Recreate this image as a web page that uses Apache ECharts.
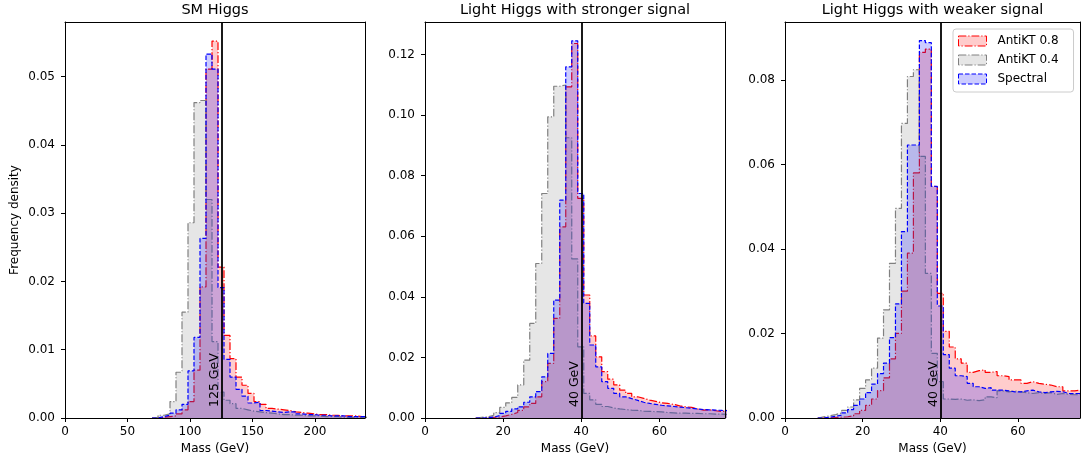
<!DOCTYPE html>
<html><head><meta charset="utf-8">
<script src="https://cdn.jsdelivr.net/npm/echarts@6/dist/echarts.min.js"></script>
<style>html,body{margin:0;padding:0;background:#fff}#c{width:1081px;height:465px}</style>
</head><body><div id="c"></div>
<script>
// ---------- data ----------
const seriesNames = ['AntiKT 0.8', 'AntiKT 0.4', 'Spectral'];
const panelTitles = ['SM Higgs', 'Light Higgs with stronger signal', 'Light Higgs with weaker signal'];
const markerMass = [125, 40, 40];
const markerLabels = ['125 GeV', '40 GeV', '40 GeV'];
const xMaxes = [240, 76.8, 76.0];
const yMaxes = [0.058, 0.1307, 0.0937];
const xTickValues = [[0, 50, 100, 150, 200], [0, 20, 40, 60], [0, 20, 40, 60]];
const yTickValues = [
  [0, 0.01, 0.02, 0.03, 0.04, 0.05],
  [0, 0.02, 0.04, 0.06, 0.08, 0.10, 0.12],
  [0, 0.02, 0.04, 0.06, 0.08]
];
// first bin edge and bin width (GeV) of each panel
const binStarts = [69.6, 12.99, 8.44];
const binWidths = [4.8, 1.536, 1.54];

// SM Higgs (bins from 69.6 GeV, width 4.8)
const smAntiKT08 = [0, 0.0001, 0.0002, 0.0003, 0.0006, 0.0012, 0.0024, 0.0070, 0.0192, 0.0511, 0.0552, 0.0221, 0.0121, 0.0087, 0.0060, 0.0048, 0.0036, 0.0024, 0.0020, 0.0014, 0.0013, 0.0012, 0.0011, 0.0009, 0.0008, 0.0007, 0.0006, 0.0005, 0.0005, 0.0004, 0.0004, 0.0003, 0.0003, 0.0003, 0.0002, 0.0002];
const smAntiKT04 = [0.0001, 0.0004, 0.0006, 0.0024, 0.0067, 0.0155, 0.0286, 0.0462, 0.0465, 0.0320, 0.0112, 0.0038, 0.0026, 0.0021, 0.0014, 0.0012, 0.0010, 0.0009, 0.0008, 0.0007, 0.0006, 0.0005, 0.0005, 0.0004, 0.0004, 0.0003, 0.0003, 0.0003, 0.0002, 0.0002, 0.0002, 0.0001, 0.0001, 0.0001, 0.0001, 0.0001];
const smSpectral = [0, 0.0002, 0.0004, 0.0007, 0.0012, 0.0020, 0.0069, 0.0118, 0.0263, 0.0533, 0.0511, 0.0191, 0.0086, 0.0060, 0.0042, 0.0032, 0.0022, 0.0023, 0.0011, 0.0010, 0.0009, 0.0008, 0.0009, 0.0009, 0.0006, 0.0005, 0.0005, 0.0004, 0.0004, 0.0003, 0.0003, 0.0003, 0.0002, 0.0002, 0.0002, 0.0002];

// Light Higgs, stronger signal (bins from 12.99 GeV, width 1.536)
const strongAntiKT08 = [0, 0.0001, 0.0002, 0.0003, 0.0007, 0.0012, 0.0018, 0.0025, 0.0037, 0.0048, 0.0070, 0.0120, 0.0180, 0.0329, 0.0631, 0.1093, 0.1236, 0.0725, 0.0406, 0.0271, 0.0202, 0.0153, 0.0128, 0.0109, 0.0092, 0.0081, 0.0070, 0.0065, 0.0059, 0.0055, 0.0050, 0.0048, 0.0045, 0.0040, 0.0037, 0.0035, 0.0030, 0.0026, 0.0027, 0.0024, 0.0021, 0.0026];
const strongAntiKT04 = [0.0002, 0.0004, 0.0009, 0.0018, 0.0035, 0.0050, 0.0068, 0.0109, 0.0191, 0.0312, 0.0510, 0.0741, 0.0994, 0.1095, 0.1099, 0.0925, 0.0525, 0.0235, 0.0081, 0.0060, 0.0045, 0.0038, 0.0033, 0.0030, 0.0028, 0.0026, 0.0025, 0.0023, 0.0022, 0.0021, 0.0020, 0.0018, 0.0017, 0.0016, 0.0016, 0.0015, 0.0015, 0.0014, 0.0014, 0.0013, 0.0013, 0.0012];
const strongSpectral = [0, 0.0001, 0.0003, 0.0008, 0.0015, 0.0022, 0.0030, 0.0037, 0.0052, 0.0070, 0.0087, 0.0136, 0.0213, 0.0389, 0.0719, 0.1159, 0.1245, 0.0741, 0.0378, 0.0241, 0.0169, 0.0120, 0.0098, 0.0081, 0.0070, 0.0064, 0.0058, 0.0052, 0.0048, 0.0045, 0.0042, 0.0040, 0.0038, 0.0036, 0.0034, 0.0032, 0.0030, 0.0028, 0.0027, 0.0026, 0.0025, 0.0024];

// Light Higgs, weaker signal (bins from 8.44 GeV, width 1.54)
const weakAntiKT08 = [0, 0, 0.0001, 0.0002, 0.0003, 0.0005, 0.0010, 0.0018, 0.0030, 0.0045, 0.0065, 0.0095, 0.0140, 0.0200, 0.0300, 0.0390, 0.0580, 0.0865, 0.0873, 0.0548, 0.0295, 0.0205, 0.0168, 0.0140, 0.0130, 0.0108, 0.0112, 0.0114, 0.0108, 0.0110, 0.0100, 0.0098, 0.0090, 0.0090, 0.0082, 0.0086, 0.0082, 0.0080, 0.0078, 0.0074, 0.0074, 0.0064, 0.0064, 0.0066, 0.0068];
const weakAntiKT04 = [0.0003, 0.0005, 0.0008, 0.0012, 0.0018, 0.0026, 0.0043, 0.0070, 0.0090, 0.0118, 0.0189, 0.0256, 0.0366, 0.0496, 0.0697, 0.0808, 0.0824, 0.0619, 0.0342, 0.0153, 0.0086, 0.0045, 0.0044, 0.0045, 0.0042, 0.0043, 0.0041, 0.0043, 0.0050, 0.0048, 0.0064, 0.0062, 0.0064, 0.0062, 0.0060, 0.0058, 0.0060, 0.0058, 0.0060, 0.0056, 0.0058, 0.0056, 0.0055, 0.0056, 0.0055];
const weakSpectral = [0, 0.0002, 0.0004, 0.0007, 0.0012, 0.0020, 0.0030, 0.0045, 0.0060, 0.0080, 0.0105, 0.0130, 0.0190, 0.0270, 0.0441, 0.0646, 0.0646, 0.0893, 0.0888, 0.0548, 0.0265, 0.0150, 0.0118, 0.0100, 0.0098, 0.0082, 0.0074, 0.0070, 0.0072, 0.0066, 0.0066, 0.0064, 0.0062, 0.0062, 0.0064, 0.0066, 0.0062, 0.0060, 0.0062, 0.0063, 0.0062, 0.0058, 0.0058, 0.0058, 0.0058];

const panelValues = [
  [smAntiKT08, smAntiKT04, smSpectral],
  [strongAntiKT08, strongAntiKT04, strongSpectral],
  [weakAntiKT08, weakAntiKT04, weakSpectral]
];

// ---------- styles ----------
const FONT = 'DejaVu Sans';
const lineColors = ['#ff0000', '#808080', '#0000ff'];
const fillColors = ['rgba(255,0,0,0.2)', 'rgba(128,128,128,0.2)', 'rgba(0,0,255,0.2)'];
const dashes = [[7.8, 2, 1.2, 2], [7.8, 2, 1.2, 2], [4.5, 2]];
const gridBoxes = [
  {left: 65, top: 22, width: 300, height: 396},
  {left: 425, top: 22, width: 300, height: 396},
  {left: 785, top: 22, width: 295, height: 396}
];

function stepPoints(start, width, vals) {
  const pts = [[start, 0]];
  vals.forEach((v, i) => pts.push([start + i * width, v]));
  const end = start + vals.length * width;
  pts.push([end, vals[vals.length - 1]]);
  pts.push([end, 0]);
  return pts;
}

const blackLine = {color: '#000', width: 1};
const xAxes = [], yAxes = [], series = [];
for (let i = 0; i < 3; i++) {
  xAxes.push({
    gridIndex: i, type: 'value', min: 0, max: xMaxes[i], position: 'bottom', z: 10,
    axisLine: {show: true, onZero: false, lineStyle: blackLine},
    axisTick: {show: true, inside: false, length: 4, customValues: xTickValues[i], lineStyle: blackLine},
    axisLabel: {customValues: xTickValues[i], margin: 8, fontSize: 12, color: '#000', fontFamily: FONT},
    splitLine: {show: false},
    name: 'Mass (GeV)', nameLocation: 'middle', nameGap: 25,
    nameTextStyle: {fontSize: 12, color: '#000', fontFamily: FONT}
  });
}
for (let i = 0; i < 3; i++) {
  xAxes.push({
    gridIndex: i, type: 'value', min: 0, max: xMaxes[i], position: 'top', z: 10,
    axisLine: {show: true, onZero: false, lineStyle: blackLine},
    axisTick: {show: false}, axisLabel: {show: false}, splitLine: {show: false},
    name: panelTitles[i], nameLocation: 'middle', nameGap: 4,
    nameTextStyle: {fontSize: 14.5, color: '#000', fontFamily: FONT, verticalAlign: 'bottom'}
  });
}
for (let i = 0; i < 3; i++) {
  const y = {
    gridIndex: i, type: 'value', min: 0, max: yMaxes[i], position: 'left', z: 10,
    axisLine: {show: true, onZero: false, lineStyle: blackLine},
    axisTick: {show: true, inside: false, length: 4, customValues: yTickValues[i], lineStyle: blackLine},
    axisLabel: {customValues: yTickValues[i], margin: 10, fontSize: 12, color: '#000', fontFamily: FONT,
      formatter: v => Number(v).toFixed(2)},
    splitLine: {show: false}
  };
  if (i === 0) {
    y.name = 'Frequency density'; y.nameLocation = 'middle'; y.nameGap = 44; y.nameRotate = 90;
    y.nameTextStyle = {fontSize: 12, color: '#000', fontFamily: FONT};
  }
  yAxes.push(y);
}
for (let i = 0; i < 3; i++) {
  yAxes.push({
    gridIndex: i, type: 'value', min: 0, max: yMaxes[i], position: 'right', z: 10,
    axisLine: {show: true, onZero: false, lineStyle: blackLine},
    axisTick: {show: false}, axisLabel: {show: false}, splitLine: {show: false}
  });
}
for (let i = 0; i < 3; i++) {
  for (let s = 0; s < 3; s++) {
    series.push({
      type: 'line', name: seriesNames[s], xAxisIndex: i, yAxisIndex: i,
      data: stepPoints(binStarts[i], binWidths[i], panelValues[i][s]),
      step: 'end', symbol: 'none', showSymbol: false, clip: true, z: 2 + s,
      lineStyle: {color: lineColors[s], width: 1.2, type: dashes[s]},
      itemStyle: {color: lineColors[s]},
      areaStyle: {color: fillColors[s], opacity: 1},
      emphasis: {disabled: true}, silent: true
    });
  }
  series.push({
    type: 'line', xAxisIndex: i, yAxisIndex: i, data: [], z: 8, silent: true,
    markLine: {
      silent: true, symbol: ['none', 'none'], animation: false,
      lineStyle: {color: '#000', width: 1.8, type: 'solid'},
      label: {show: true, position: 'insideStartTop', formatter: markerLabels[i], distance: [11, 0],
        fontSize: 12.5, color: '#000', fontFamily: FONT},
      emphasis: {disabled: true},
      data: [{xAxis: markerMass[i]}]
    }
  });
}

const chart = echarts.init(document.getElementById('c'), null, {renderer: 'canvas'});
chart.setOption({
  animation: false,
  backgroundColor: '#fff',
  grid: gridBoxes.map(g => Object.assign({containLabel: false, outerBoundsMode: 'none'}, g)),
  xAxis: xAxes, yAxis: yAxes, series: series,
  legend: {
    orient: 'vertical', left: 953, top: 29, padding: [6, 15, 7, 5],
    itemWidth: 28, itemHeight: 10, itemGap: 7, selectedMode: false,
    borderColor: '#cccccc', borderWidth: 1, borderRadius: 3, backgroundColor: 'rgba(255,255,255,0.8)',
    textStyle: {fontSize: 12, color: '#000', fontFamily: FONT, padding: [0, 0, 0, 6]},
    data: seriesNames.map((n, s) => ({
      name: n, icon: 'rect',
      itemStyle: {color: fillColors[s], borderColor: lineColors[s], borderWidth: 1, borderType: dashes[s]}
    }))
  }
});
</script></body></html>
